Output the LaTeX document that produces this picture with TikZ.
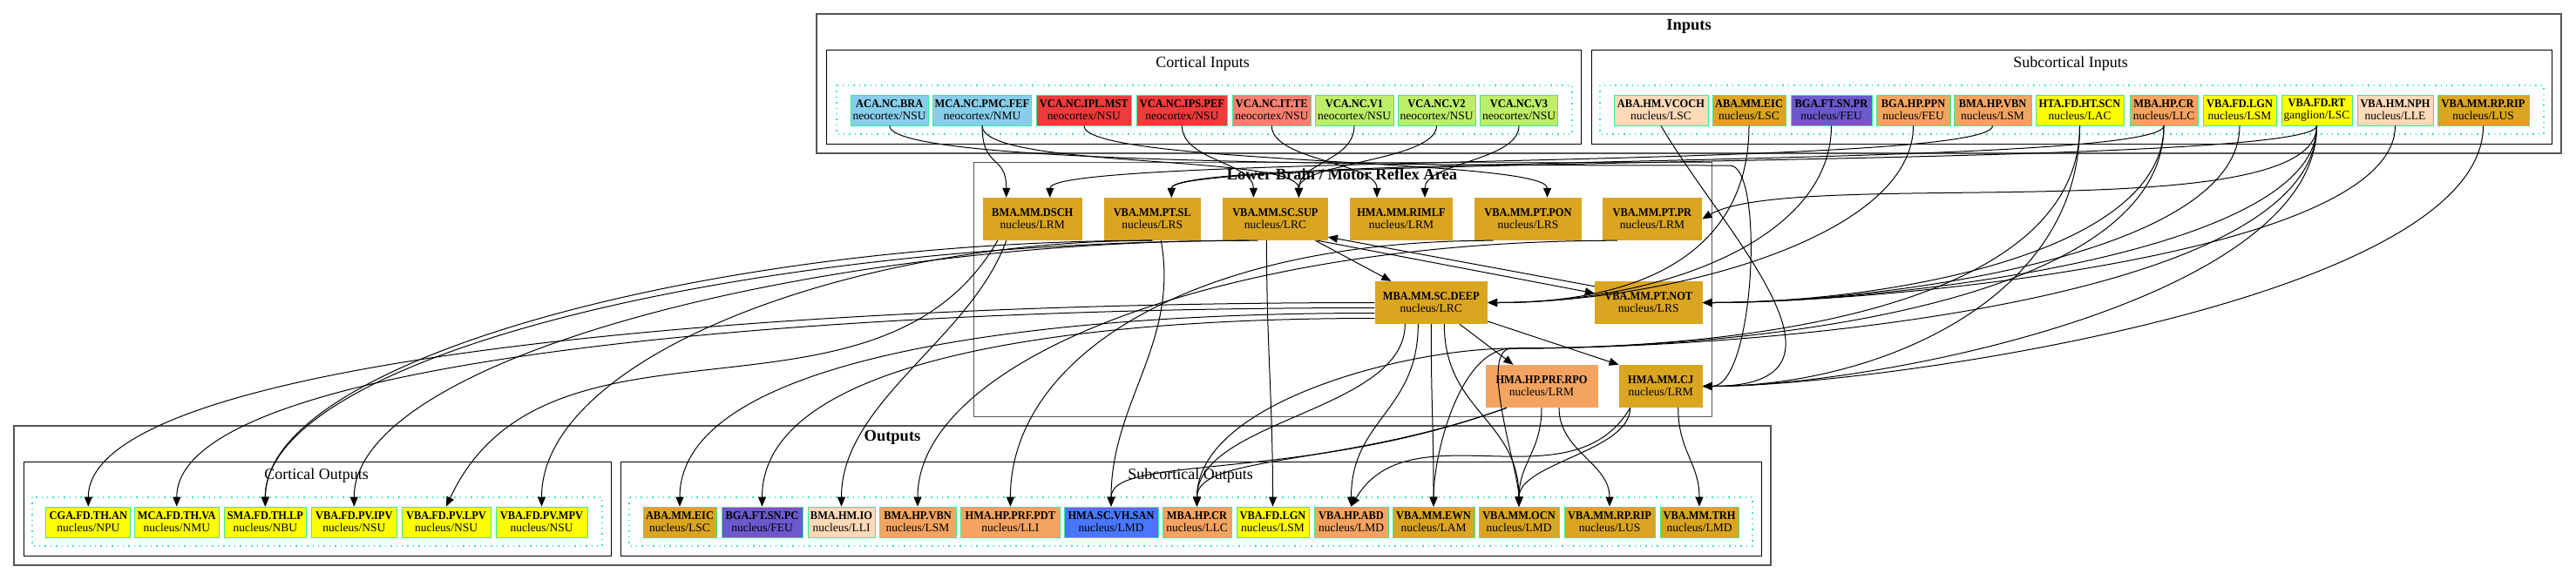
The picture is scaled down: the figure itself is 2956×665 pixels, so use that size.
\documentclass[tikz,border=0pt]{standalone}
\usepackage{fontspec}
\setmainfont{Liberation Serif}[BoldFeatures={FakeStretch=0.92}]
\newfontfamily\clusterfont{Liberation Serif}
\usetikzlibrary{arrows.meta}
\usepackage{xcolor}

\definecolor{gvgold}{HTML}{DAA520}
\definecolor{gvsandy}{HTML}{F4A460}
\definecolor{gvpeach}{HTML}{FFDAB9}
\definecolor{gvslate}{HTML}{6A5ACD}
\definecolor{gvyellow}{HTML}{FFFF00}
\definecolor{gvsky}{HTML}{87CEEB}
\definecolor{gvred}{HTML}{EE3B3B}
\definecolor{gvsalmon}{HTML}{FA8072}
\definecolor{gvlime}{HTML}{BCEE68}
\definecolor{gvroyal}{HTML}{4876FF}
\definecolor{gvgreen}{HTML}{33EE99}
\definecolor{gvgray}{HTML}{555555}

\begin{document}
\begin{tikzpicture}[x=1pt, y=1pt,
    gvnode/.style={draw=gvgreen, line width=0.8pt, inner sep=0pt, minimum height=35pt, align=center, font=\fontsize{13.5}{14}\selectfont},
    lbnode/.style={inner sep=0pt, minimum height=49pt, align=center, font=\fontsize{13.5}{14}\selectfont, fill=gvgold},
    outerclu/.style={draw=gvgray, line width=1.3pt},
    innerclu/.style={draw=black, line width=0.9pt},
    dotclu/.style={draw=gvgreen, line width=1.4pt, dash pattern=on 1.4pt off 5pt},
    title/.style={font=\clusterfont\bfseries\fontsize{18.5}{20}\selectfont, inner sep=0pt},
    subtitle/.style={font=\clusterfont\fontsize{18}{20}\selectfont, inner sep=0pt},
    conn/.style={line width=1pt, -{Triangle[length=11pt,width=9pt]}},
    dn/.style={to path={.. controls +(0,-#1) and +(0,#1) .. (\tikztotarget)}},
    fromright/.style={to path={.. controls +(0,-#1) and +(200,0) .. (\tikztotarget)}},
    lsweep/.style={to path={.. controls +(-#1,0) and +(0,170) .. (\tikztotarget)}},
]
\useasboundingbox (0,0) rectangle (2956,-665);

% --- clusters ---
\draw[outerclu] (937,-16) rectangle (2939,-176);
\node[title] (lbl-inputs) at (1938,-30) {Inputs};
\draw[innerclu] (948,-57) rectangle (1814,-165);
\node[subtitle] (lbl-cortin) at (1380,-73) {Cortical Inputs};
\draw[dotclu] (960,-98) rectangle (1804,-154);
\draw[innerclu] (1826,-57) rectangle (2928,-165);
\node[subtitle] (lbl-subin) at (2376,-73) {Subcortical Inputs};
\draw[dotclu] (1836,-98) rectangle (2919,-154);

\draw[outerclu, line width=1pt] (1117,-186) rectangle (1964,-478);
\node[title] (lbl-lower) at (1540,-200) {Lower Brain / Motor Reflex Area};

\draw[outerclu] (16,-489) rectangle (2032,-649);
\node[title] (lbl-outputs) at (1024,-502) {Outputs};
\draw[innerclu] (27,-530) rectangle (701,-638);
\node[subtitle] (lbl-cortout) at (363,-546) {Cortical Outputs};
\draw[dotclu] (37,-571) rectangle (691,-627);
\draw[innerclu] (712,-530) rectangle (2021,-638);
\node[subtitle] (lbl-subout) at (1366,-546) {Subcortical Outputs};
\draw[dotclu] (722,-571) rectangle (2011,-627);

% --- cortical inputs ---
\node[gvnode, fill=gvsky, minimum width=89.5pt] (aca-bra) at (1020.7,-126.5) {\textbf{ACA.NC.BRA}\\neocortex/NSU};
\node[gvnode, fill=gvsky, minimum width=113pt] (mca-fef) at (1127,-126.5) {\textbf{MCA.NC.PMC.FEF}\\neocortex/NMU};
\node[gvnode, fill=gvred, minimum width=108.5pt] (vca-mst) at (1243.8,-126.5) {\textbf{VCA.NC.IPL.MST}\\neocortex/NSU};
\node[gvnode, fill=gvred, minimum width=104.8pt] (vca-pef) at (1356.4,-126.5) {\textbf{VCA.NC.IPS.PEF}\\neocortex/NSU};
\node[gvnode, fill=gvsalmon, minimum width=89.5pt] (vca-te) at (1459.3,-126.5) {\textbf{VCA.NC.IT.TE}\\neocortex/NSU};
\node[gvnode, fill=gvlime, minimum width=89.8pt] (vca-v1) at (1554,-126.5) {\textbf{VCA.NC.V1}\\neocortex/NSU};
\node[gvnode, fill=gvlime, minimum width=89pt] (vca-v2) at (1648.5,-126.5) {\textbf{VCA.NC.V2}\\neocortex/NSU};
\node[gvnode, fill=gvlime, minimum width=89pt] (vca-v3) at (1743,-126.5) {\textbf{VCA.NC.V3}\\neocortex/NSU};

% --- subcortical inputs ---
\node[gvnode, fill=gvpeach, minimum width=108pt] (in-vcoch) at (1906,-126.5) {\textbf{ABA.HM.VCOCH}\\nucleus/LSC};
\node[gvnode, fill=gvgold, minimum width=84pt] (in-eic) at (2007,-126.5) {\textbf{ABA.MM.EIC}\\nucleus/LSC};
\node[gvnode, fill=gvslate, minimum width=93pt] (in-snpr) at (2101.5,-126.5) {\textbf{BGA.FT.SN.PR}\\nucleus/FEU};
\node[gvnode, fill=gvsandy, minimum width=85pt] (in-ppn) at (2195.5,-126.5) {\textbf{BGA.HP.PPN}\\nucleus/FEU};
\node[gvnode, fill=gvsandy, minimum width=89pt] (in-vbn) at (2286.5,-126.5) {\textbf{BMA.HP.VBN}\\nucleus/LSM};
\node[gvnode, fill=gvyellow, minimum width=101pt] (in-scn) at (2386.5,-126.5) {\textbf{HTA.FD.HT.SCN}\\nucleus/LAC};
\node[gvnode, fill=gvsandy, minimum width=78pt] (in-cr) at (2483,-126.5) {\textbf{MBA.HP.CR}\\nucleus/LLC};
\node[gvnode, fill=gvyellow, minimum width=84pt] (in-lgn) at (2570,-126.5) {\textbf{VBA.FD.LGN}\\nucleus/LSM};
\node[gvnode, fill=gvyellow, minimum width=81pt] (in-rt) at (2658.5,-126.5) {\textbf{VBA.FD.RT}\\ganglion/LSC};
\node[gvnode, fill=gvpeach, minimum width=87pt] (in-nph) at (2748.5,-126.5) {\textbf{VBA.HM.NPH}\\nucleus/LLE};
\node[gvnode, fill=gvgold, minimum width=105pt] (in-rip) at (2849.5,-126.5) {\textbf{VBA.MM.RP.RIP}\\nucleus/LUS};

% --- lower brain ---
\node[lbnode, minimum width=114.5pt] (lb-dsch) at (1184.8,-251.5) {\textbf{BMA.MM.DSCH}\\nucleus/LRM};
\node[lbnode, minimum width=111.5pt] (lb-sl) at (1322.3,-251.5) {\textbf{VBA.MM.PT.SL}\\nucleus/LRS};
\node[lbnode, minimum width=120.7pt] (lb-sup) at (1463.4,-251.5) {\textbf{VBA.MM.SC.SUP}\\nucleus/LRC};
\node[lbnode, minimum width=118pt] (lb-rimlf) at (1608,-251.5) {\textbf{HMA.MM.RIMLF}\\nucleus/LRM};
\node[lbnode, minimum width=123pt] (lb-pon) at (1753.5,-251.5) {\textbf{VBA.MM.PT.PON}\\nucleus/LRS};
\node[lbnode, minimum width=114pt] (lb-pr) at (1896,-251.5) {\textbf{VBA.MM.PT.PR}\\nucleus/LRM};
\node[lbnode, minimum width=129.4pt] (lb-deep) at (1642.3,-347.5) {\textbf{MBA.MM.SC.DEEP}\\nucleus/LRC};
\node[lbnode, minimum width=123.6pt] (lb-not) at (1891.8,-347.5) {\textbf{VBA.MM.PT.NOT}\\nucleus/LRS};
\node[lbnode, fill=gvsandy, minimum width=129pt] (lb-rpo) at (1769,-443.5) {\textbf{HMA.HP.PRF.RPO}\\nucleus/LRM};
\node[lbnode, minimum width=96pt] (lb-cj) at (1905.7,-443.5) {\textbf{HMA.MM.CJ}\\nucleus/LRM};

% --- cortical outputs ---
\node[gvnode, fill=gvyellow, minimum width=97pt] (out-an) at (101.3,-599.5) {\textbf{CGA.FD.TH.AN}\\nucleus/NPU};
\node[gvnode, fill=gvyellow, minimum width=97.6pt] (out-va) at (202.8,-599.5) {\textbf{MCA.FD.TH.VA}\\nucleus/NMU};
\node[gvnode, fill=gvyellow, minimum width=94.7pt] (out-lp) at (304.4,-599.5) {\textbf{SMA.FD.TH.LP}\\nucleus/NBU};
\node[gvnode, fill=gvyellow, minimum width=98.5pt] (out-ipv) at (406.3,-599.5) {\textbf{VBA.FD.PV.IPV}\\nucleus/NSU};
\node[gvnode, fill=gvyellow, minimum width=102pt] (out-lpv) at (512,-599.5) {\textbf{VBA.FD.PV.LPV}\\nucleus/NSU};
\node[gvnode, fill=gvyellow, minimum width=105pt] (out-mpv) at (621.5,-599.5) {\textbf{VBA.FD.PV.MPV}\\nucleus/NSU};

% --- subcortical outputs ---
\node[gvnode, fill=gvgold, minimum width=84pt] (out-eic) at (780,-599.5) {\textbf{ABA.MM.EIC}\\nucleus/LSC};
\node[gvnode, fill=gvslate, minimum width=93pt] (out-snpc) at (874.5,-599.5) {\textbf{BGA.FT.SN.PC}\\nucleus/FEU};
\node[gvnode, fill=gvpeach, minimum width=77pt] (out-io) at (965.5,-599.5) {\textbf{BMA.HM.IO}\\nucleus/LLI};
\node[gvnode, fill=gvsandy, minimum width=88pt] (out-vbn) at (1053,-599.5) {\textbf{BMA.HP.VBN}\\nucleus/LSM};
\node[gvnode, fill=gvsandy, minimum width=113.3pt] (out-pdt) at (1159.4,-599.5) {\textbf{HMA.HP.PRF.PDT}\\nucleus/LLI};
\node[gvnode, fill=gvroyal, minimum width=108pt] (out-san) at (1275,-599.5) {\textbf{HMA.SC.VH.SAN}\\nucleus/LMD};
\node[gvnode, fill=gvsandy, minimum width=79pt] (out-cr) at (1373.5,-599.5) {\textbf{MBA.HP.CR}\\nucleus/LLC};
\node[gvnode, fill=gvyellow, minimum width=83pt] (out-lgn) at (1460.5,-599.5) {\textbf{VBA.FD.LGN}\\nucleus/LSM};
\node[gvnode, fill=gvsandy, minimum width=85pt] (out-abd) at (1550.5,-599.5) {\textbf{VBA.HP.ABD}\\nucleus/LMD};
\node[gvnode, fill=gvgold, minimum width=94pt] (out-ewn) at (1645,-599.5) {\textbf{VBA.MM.EWN}\\nucleus/LAM};
\node[gvnode, fill=gvgold, minimum width=92pt] (out-ocn) at (1743,-599.5) {\textbf{VBA.MM.OCN}\\nucleus/LMD};
\node[gvnode, fill=gvgold, minimum width=104pt] (out-rip) at (1847,-599.5) {\textbf{VBA.MM.RP.RIP}\\nucleus/LUS};
\node[gvnode, fill=gvgold, minimum width=90pt] (out-trh) at (1950,-599.5) {\textbf{VBA.MM.TRH}\\nucleus/LMD};

\coordinate (gap) at (1735,-400);
\coordinate (aca-turn) at (1985,-190);

% --- inputs -> lower brain ---
\draw[conn] (mca-fef.south) to[dn=50] ([xshift=-30pt]lb-dsch.north);
\draw[conn] (in-vbn.south) to[dn=50] ([xshift=20pt]lb-dsch.north);
\draw[conn] (in-rt.south) to[dn=50] ([xshift=22pt]lb-sl.north);
\draw[conn] (in-cr.south) to[dn=50] ([xshift=22pt]lb-sl.north);
\draw[conn] (vca-pef.south) to[dn=40] ([xshift=-25pt]lb-sup.north);
\draw[conn] (mca-fef.south) to[dn=50] ([xshift=27pt]lb-sup.north);
\draw[conn] (vca-v1.south) to[dn=40] ([xshift=27pt]lb-sup.north);
\draw[conn] (vca-v2.south) to[dn=40] ([xshift=27pt]lb-sup.north);
\draw[conn] (vca-te.south) to[dn=40] ([xshift=-28pt]lb-rimlf.north);
\draw[conn] (vca-v3.south) to[dn=40] ([xshift=27pt]lb-rimlf.north);
\draw[conn] (vca-mst.south) to[dn=45] ([xshift=22pt]lb-pon.north);
\draw[conn] (in-rt.south) .. controls +(0,-120) and +(104,60) .. (lb-pr.east);
\draw[conn] (aca-bra.south) .. controls +(0,-40) and +(-500,0) .. (aca-turn) .. controls +(40,0) and +(60,0) .. (lb-cj.east);

\draw[conn] (in-snpr.south) to[fromright=130] (lb-deep.east);
\draw[conn] (in-ppn.south) to[fromright=130] (lb-deep.east);
\draw[conn] (in-eic.south) to[fromright=130] (lb-deep.east);
\draw[conn] (in-lgn.south) to[fromright=150] (lb-not.east);
\draw[conn] (in-rt.south) to[fromright=150] (lb-not.east);
\draw[conn] (in-nph.south) to[fromright=150] (lb-not.east);
\draw[conn] (in-cr.south) to[fromright=150] (lb-not.east);
\draw[conn] (in-rip.south) to[fromright=200] (lb-cj.east);
\draw[conn] (in-rt.south) to[fromright=200] (lb-cj.east);
\draw[conn] (in-scn.south) to[fromright=200] (lb-cj.east);
\draw[conn] (in-vcoch.south) .. controls +(70,-120) and +(200,0) .. (lb-cj.east);

% --- inside lower brain ---
\draw[conn] (lb-sup) -- (lb-deep);
\draw[conn] ([xshift=-12pt]lb-sup.south east) -- ([yshift=-14pt]lb-not.north west);
\draw[conn] ([yshift=-6pt]lb-not.north west) -- ([yshift=4pt]lb-sup.south east);
\draw[conn] (lb-deep) -- (lb-rpo);
\draw[conn] (lb-deep) -- (lb-cj.north west);

% --- lower brain -> cortical outputs ---
\draw[conn] (lb-deep.west) to[lsweep=700] (out-an.north);
\draw[conn] ([yshift=-6pt]lb-deep.west) to[lsweep=650] (out-va.north);
\draw[conn] ([xshift=-20pt]lb-sup.south) to[lsweep=600] (out-lp.north);
\draw[conn] (lb-sl.south) to[lsweep=500] (out-lp.north);
\draw[conn] ([xshift=-30pt]lb-sup.south) to[lsweep=500] (out-ipv.north);
\draw[conn] ([xshift=-40pt]lb-dsch.south) .. controls +(-137,-238) and +(116,249) .. (out-lpv.north);
\draw[conn] (lb-sl.south) to[lsweep=350] (out-mpv.north);

% --- lower brain -> subcortical outputs ---
\draw[conn] ([yshift=-12pt]lb-deep.west) to[lsweep=400] (out-eic.north);
\draw[conn] ([yshift=-18pt]lb-deep.west) to[lsweep=350] (out-snpc.north);
\draw[conn] ([xshift=-30pt]lb-dsch.south) .. controls +(-41,-113) and +(0,120) .. (out-io.north);
\draw[conn] ([xshift=-40pt]lb-pr.south) to[lsweep=450] (out-vbn.north);
\draw[conn] ([xshift=-40pt]lb-pon.south) to[lsweep=350] (out-pdt.north);
\draw[conn] ([xshift=10pt]lb-sl.south) .. controls +(21,-118) and +(0,120) .. (out-san.north);
\draw[conn] ([xshift=-40pt]lb-rpo.south) .. controls +(-235,-86) and +(0,60) .. (out-san.north);
\draw[conn] ([xshift=-40pt]lb-rpo.south) .. controls +(-188,-68) and +(0,60) .. (out-cr.north);
\draw[conn] ([xshift=-30pt]lb-deep.south) to[dn=100] (out-cr.north);
\draw[conn] ([xshift=-10pt]lb-sup.south) to[dn=120] (out-lgn.north);
\draw[conn] ([xshift=-15pt]lb-deep.south) to[dn=100] (out-abd.north);
\draw[conn] ([xshift=-35pt]lb-cj.south) .. controls +(-67,-115) and +(67,115) .. (out-abd.north);
\draw[conn] (lb-deep.south) to[dn=100] (out-ewn.north);
\draw[conn] ([xshift=15pt]lb-deep.south) to[dn=100] (out-ocn.north);
\draw[conn] (lb-rpo.south) to[dn=50] (out-ocn.north);
\draw[conn] ([xshift=-35pt]lb-cj.south) to[dn=50] (out-ocn.north);
\draw[conn] ([xshift=20pt]lb-rpo.south) to[dn=50] (out-rip.north);
\draw[conn] ([xshift=20pt]lb-cj.south) to[dn=50] (out-trh.north);

% --- inputs -> outputs, through the gap ---
\draw[conn] (in-scn.south) .. controls +(0,-200) and +(300,0) .. (gap) .. controls +(-60,0) and +(0,60) .. (out-ewn.north);
\draw[conn] (in-rt.south) .. controls +(0,-200) and +(300,0) .. (gap) .. controls +(-40,0) and +(0,40) .. (out-ocn.north);
\draw[conn] (in-cr.south) .. controls +(0,-200) and +(300,0) .. (gap) .. controls +(-120,0) and +(0,120) .. (out-cr.north);
\end{tikzpicture}
\end{document}
